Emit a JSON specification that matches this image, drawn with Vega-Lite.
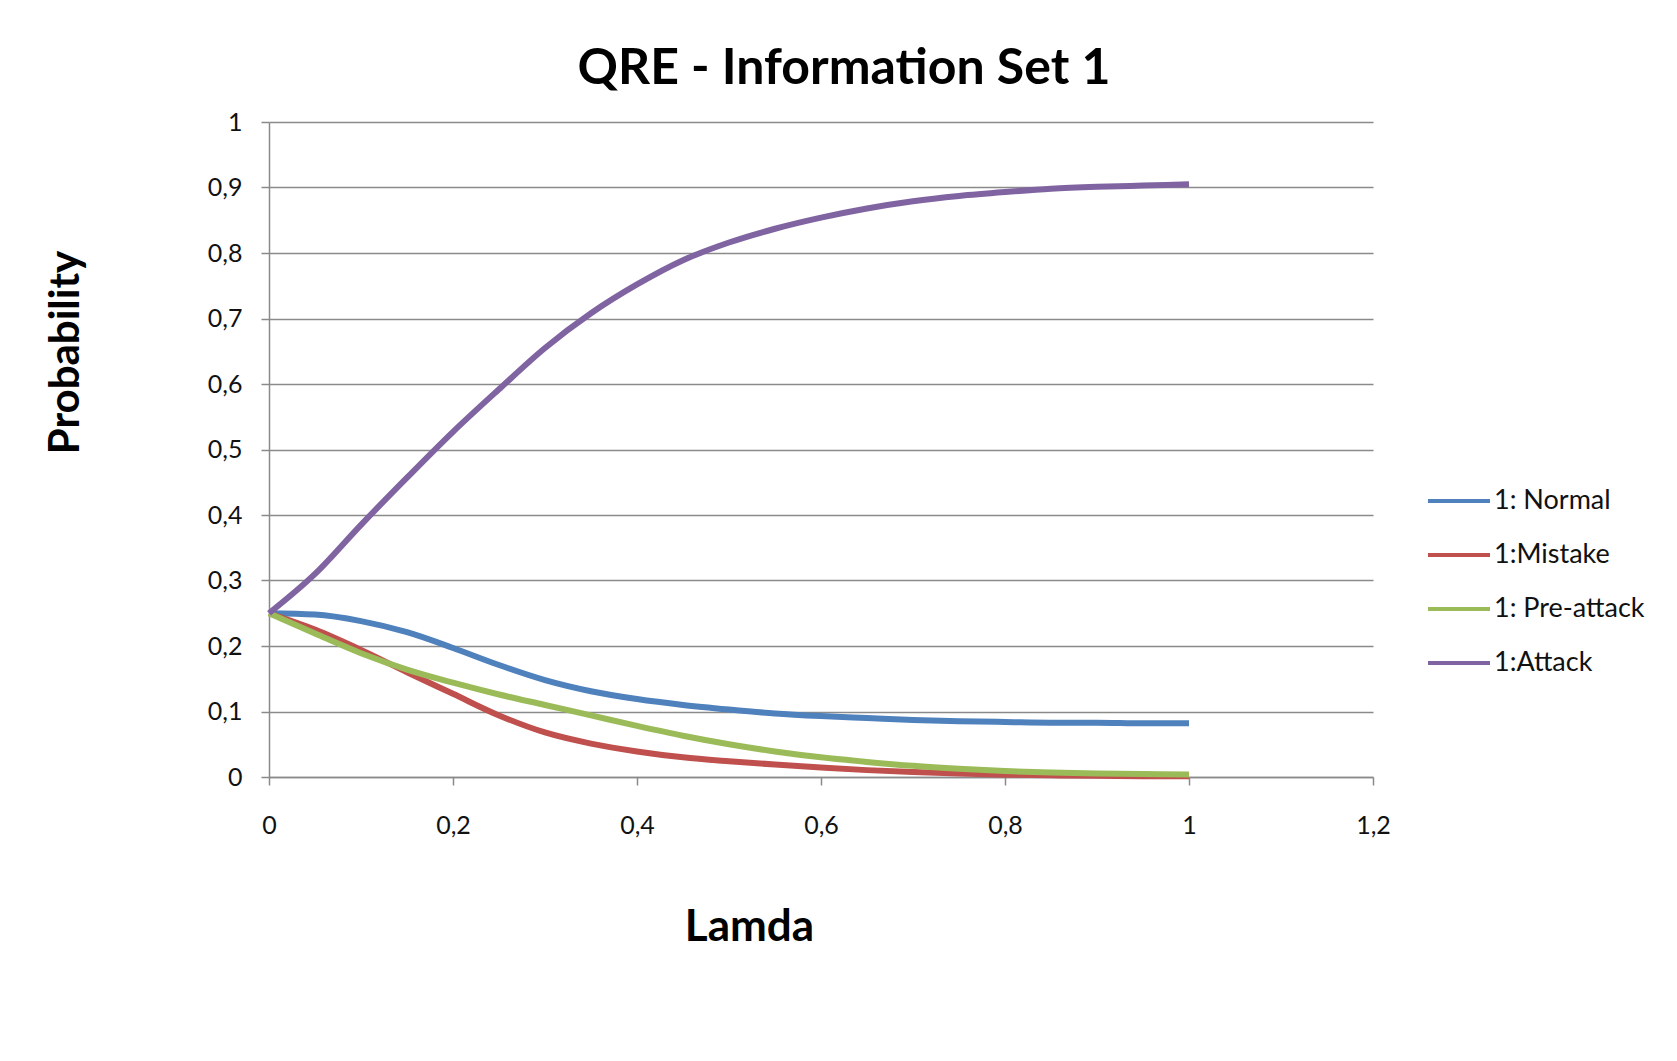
{
  "$schema": "https://vega.github.io/schema/vega-lite/v6.json",
  "width": 1104,
  "height": 655,
  "autosize": {"type": "none"},
  "padding": {"left": 269, "top": 122, "right": 304, "bottom": 284},
  "background": "white",
  "title": {
    "text": "QRE - Information Set 1",
    "font": "Lato",
    "fontSize": 50,
    "fontWeight": "bold",
    "color": "#000000",
    "anchor": "middle",
    "dx": 23,
    "offset": 16
  },
  "data": {
    "values": [
      {"lambda": 0, "series": "1: Normal", "p": 0.25},
      {"lambda": 0.05, "series": "1: Normal", "p": 0.248},
      {"lambda": 0.1, "series": "1: Normal", "p": 0.238},
      {"lambda": 0.15, "series": "1: Normal", "p": 0.221},
      {"lambda": 0.2, "series": "1: Normal", "p": 0.197},
      {"lambda": 0.25, "series": "1: Normal", "p": 0.171},
      {"lambda": 0.3, "series": "1: Normal", "p": 0.148},
      {"lambda": 0.35, "series": "1: Normal", "p": 0.131},
      {"lambda": 0.4, "series": "1: Normal", "p": 0.119},
      {"lambda": 0.45, "series": "1: Normal", "p": 0.11},
      {"lambda": 0.5, "series": "1: Normal", "p": 0.103},
      {"lambda": 0.55, "series": "1: Normal", "p": 0.097},
      {"lambda": 0.6, "series": "1: Normal", "p": 0.093},
      {"lambda": 0.65, "series": "1: Normal", "p": 0.09},
      {"lambda": 0.7, "series": "1: Normal", "p": 0.087},
      {"lambda": 0.75, "series": "1: Normal", "p": 0.085},
      {"lambda": 0.8, "series": "1: Normal", "p": 0.084},
      {"lambda": 0.85, "series": "1: Normal", "p": 0.083},
      {"lambda": 0.9, "series": "1: Normal", "p": 0.083},
      {"lambda": 0.95, "series": "1: Normal", "p": 0.082},
      {"lambda": 1, "series": "1: Normal", "p": 0.082},

      {"lambda": 0, "series": "1:Mistake", "p": 0.25},
      {"lambda": 0.05, "series": "1:Mistake", "p": 0.225},
      {"lambda": 0.1, "series": "1:Mistake", "p": 0.194},
      {"lambda": 0.15, "series": "1:Mistake", "p": 0.16},
      {"lambda": 0.2, "series": "1:Mistake", "p": 0.127},
      {"lambda": 0.25, "series": "1:Mistake", "p": 0.094},
      {"lambda": 0.3, "series": "1:Mistake", "p": 0.068},
      {"lambda": 0.35, "series": "1:Mistake", "p": 0.051},
      {"lambda": 0.4, "series": "1:Mistake", "p": 0.039},
      {"lambda": 0.45, "series": "1:Mistake", "p": 0.03},
      {"lambda": 0.5, "series": "1:Mistake", "p": 0.024},
      {"lambda": 0.55, "series": "1:Mistake", "p": 0.019},
      {"lambda": 0.6, "series": "1:Mistake", "p": 0.0145},
      {"lambda": 0.65, "series": "1:Mistake", "p": 0.0105},
      {"lambda": 0.7, "series": "1:Mistake", "p": 0.0075},
      {"lambda": 0.75, "series": "1:Mistake", "p": 0.0052},
      {"lambda": 0.8, "series": "1:Mistake", "p": 0.0036},
      {"lambda": 0.85, "series": "1:Mistake", "p": 0.0025},
      {"lambda": 0.9, "series": "1:Mistake", "p": 0.0018},
      {"lambda": 0.95, "series": "1:Mistake", "p": 0.0013},
      {"lambda": 1, "series": "1:Mistake", "p": 0.001},

      {"lambda": 0, "series": "1: Pre-attack", "p": 0.25},
      {"lambda": 0.05, "series": "1: Pre-attack", "p": 0.219},
      {"lambda": 0.1, "series": "1: Pre-attack", "p": 0.189},
      {"lambda": 0.15, "series": "1: Pre-attack", "p": 0.164},
      {"lambda": 0.2, "series": "1: Pre-attack", "p": 0.144},
      {"lambda": 0.25, "series": "1: Pre-attack", "p": 0.126},
      {"lambda": 0.3, "series": "1: Pre-attack", "p": 0.11},
      {"lambda": 0.35, "series": "1: Pre-attack", "p": 0.094},
      {"lambda": 0.4, "series": "1: Pre-attack", "p": 0.078},
      {"lambda": 0.45, "series": "1: Pre-attack", "p": 0.063},
      {"lambda": 0.5, "series": "1: Pre-attack", "p": 0.05},
      {"lambda": 0.55, "series": "1: Pre-attack", "p": 0.039},
      {"lambda": 0.6, "series": "1: Pre-attack", "p": 0.03},
      {"lambda": 0.65, "series": "1: Pre-attack", "p": 0.023},
      {"lambda": 0.7, "series": "1: Pre-attack", "p": 0.017},
      {"lambda": 0.75, "series": "1: Pre-attack", "p": 0.0125},
      {"lambda": 0.8, "series": "1: Pre-attack", "p": 0.009},
      {"lambda": 0.85, "series": "1: Pre-attack", "p": 0.0068},
      {"lambda": 0.9, "series": "1: Pre-attack", "p": 0.0053},
      {"lambda": 0.95, "series": "1: Pre-attack", "p": 0.0045},
      {"lambda": 1, "series": "1: Pre-attack", "p": 0.004},

      {"lambda": 0, "series": "1:Attack", "p": 0.25},
      {"lambda": 0.05, "series": "1:Attack", "p": 0.31},
      {"lambda": 0.1, "series": "1:Attack", "p": 0.385},
      {"lambda": 0.15, "series": "1:Attack", "p": 0.457},
      {"lambda": 0.2, "series": "1:Attack", "p": 0.527},
      {"lambda": 0.25, "series": "1:Attack", "p": 0.592},
      {"lambda": 0.3, "series": "1:Attack", "p": 0.655},
      {"lambda": 0.35, "series": "1:Attack", "p": 0.708},
      {"lambda": 0.4, "series": "1:Attack", "p": 0.752},
      {"lambda": 0.45, "series": "1:Attack", "p": 0.789},
      {"lambda": 0.5, "series": "1:Attack", "p": 0.816},
      {"lambda": 0.55, "series": "1:Attack", "p": 0.837},
      {"lambda": 0.6, "series": "1:Attack", "p": 0.854},
      {"lambda": 0.65, "series": "1:Attack", "p": 0.868},
      {"lambda": 0.7, "series": "1:Attack", "p": 0.879},
      {"lambda": 0.75, "series": "1:Attack", "p": 0.887},
      {"lambda": 0.8, "series": "1:Attack", "p": 0.893},
      {"lambda": 0.85, "series": "1:Attack", "p": 0.898},
      {"lambda": 0.9, "series": "1:Attack", "p": 0.901},
      {"lambda": 0.95, "series": "1:Attack", "p": 0.903},
      {"lambda": 1, "series": "1:Attack", "p": 0.905}
    ]
  },
  "mark": {"type": "line", "strokeWidth": 6, "interpolate": "monotone", "strokeCap": "butt"},
  "encoding": {
    "x": {
      "field": "lambda",
      "type": "quantitative",
      "scale": {"domain": [0, 1.2], "nice": false, "zero": false},
      "axis": {
        "values": [0, 0.2, 0.4, 0.6, 0.8, 1, 1.2],
        "labelExpr": "replace(format(datum.value, '.1~f'), '.', ',')",
        "labelFlush": false,
        "grid": false,
        "title": "Lamda",
        "titleFontSize": 44,
        "titleX": 480,
        "titleY": 163,
        "titleAlign": "center",
        "titleAnchor": null,
        "titleBaseline": "alphabetic",
        "titleAngle": 0
      }
    },
    "y": {
      "field": "p",
      "type": "quantitative",
      "scale": {"domain": [0, 1], "nice": false},
      "axis": {
        "values": [0, 0.1, 0.2, 0.3, 0.4, 0.5, 0.6, 0.7, 0.8, 0.9, 1],
        "labelExpr": "replace(format(datum.value, '.1~f'), '.', ',')",
        "grid": true,
        "title": "Probability",
        "titleX": -191,
        "titleY": 230,
        "titleAlign": "center",
        "titleAnchor": null,
        "titleBaseline": "alphabetic",
        "titleAngle": -90,
        "labelPadding": 19
      }
    },
    "color": {
      "field": "series",
      "type": "nominal",
      "sort": ["1: Normal", "1:Mistake", "1: Pre-attack", "1:Attack"],
      "scale": {
        "domain": ["1: Normal", "1:Mistake", "1: Pre-attack", "1:Attack"],
        "range": ["#4F81BD", "#C0504D", "#9BBB59", "#8064A2"]
      },
      "legend": {
        "title": null,
        "orient": "none",
        "legendX": 1157,
        "legendY": 346,
        "padding": 0,
        "symbolType": "stroke",
        "symbolSize": 3844,
        "symbolStrokeWidth": 4,
        "labelFont": "Lato",
        "labelFontSize": 27,
        "labelColor": "#111111",
        "labelOffset": 2,
        "rowPadding": 8
      }
    }
  },
  "config": {
    "view": {"stroke": null},
    "axis": {
      "domainColor": "#8a8a8a",
      "domainWidth": 1.5,
      "tickColor": "#8a8a8a",
      "tickWidth": 1.5,
      "tickSize": 8,
      "gridColor": "#8a8a8a",
      "gridWidth": 1.5,
      "gridOpacity": 1,
      "labelFont": "Lato",
      "labelFontSize": 25,
      "labelColor": "#111111",
      "titleFont": "Lato",
      "titleFontSize": 42,
      "titleFontWeight": "bold",
      "titleColor": "#000000"
    },
    "axisX": {"labelPadding": 28}
  }
}
